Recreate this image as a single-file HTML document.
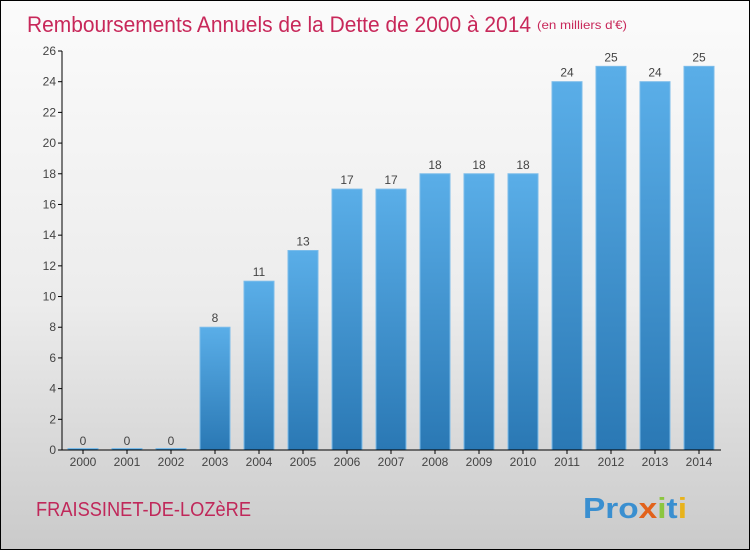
<!DOCTYPE html>
<html><head><meta charset="utf-8"><style>
body{margin:0}
#c{width:748px;height:548px;border:1px solid #000;background:linear-gradient(#fbfbfb 0%,#ececec 55%,#cacaca 100%);position:relative;font-family:"Liberation Sans",sans-serif;overflow:hidden}
</style></head><body>
<div id="c">
<svg id="s" width="748" height="548" style="position:absolute;left:0;top:0">
<defs><linearGradient id="g" x1="0" y1="0" x2="0" y2="1"><stop offset="0" stop-color="#5aaee8"/><stop offset="1" stop-color="#2a78b4"/></linearGradient></defs>
<text x="26" y="31" font-size="22" fill="#c8285a" textLength="504" lengthAdjust="spacingAndGlyphs">Remboursements Annuels de la Dette de 2000 à 2014</text>
<text x="536" y="28" font-size="12" fill="#c8285a" textLength="90" lengthAdjust="spacingAndGlyphs">(en milliers d'€)</text>
<text x="35" y="515" font-size="20" fill="#c0285a" textLength="215" lengthAdjust="spacingAndGlyphs">FRAISSINET-DE-LOZèRE</text>
<text x="582" y="517" font-size="29" font-weight="bold" fill="#3a8fd0" textLength="104" lengthAdjust="spacingAndGlyphs"><tspan fill="#3a8fd0">Pro</tspan><tspan fill="#e2621b">x</tspan><tspan fill="#8cc63f">i</tspan><tspan fill="#3a8fd0">t</tspan><tspan fill="#e8b31c">i</tspan></text>
<g id="plot"></g>
</svg>
</div>
<script>
const years=["2000","2001","2002","2003","2004","2005","2006","2007","2008","2009","2010","2011","2012","2013","2014"];
const values=[0,0,0,8,11,13,17,17,18,18,18,24,25,24,25];
const yTicks=[0,2,4,6,8,10,12,14,16,18,20,22,24,26];
const NS="http://www.w3.org/2000/svg";
const g=document.getElementById('plot');
const y0=449,yTop=50,yMax=26;
const y=v=>y0-(v/yMax)*(y0-yTop);
const x=i=>82+i*44;
function el(t,a,txt){const e=document.createElementNS(NS,t);for(const k in a)e.setAttribute(k,a[k]);if(txt!==undefined)e.textContent=txt;g.appendChild(e);return e;}
yTicks.forEach(t=>{
const tk=el('line',{x1:57,x2:61,y1:y(t),y2:y(t),stroke:'#000'});


const lb=el('text',{x:55,y:y(t)+4,'font-size':12,fill:'#444','text-anchor':'end'},t);


});
values.forEach((v,i)=>{
const h=Math.max(y0-y(v),1.5);
const r=el('rect',{x:x(i)-15,y:y0-h,width:30,height:h,fill:'url(#g)',stroke:'#7bbcea','stroke-width':1});


const vl=el('text',{x:x(i),y:y(v)-5,'font-size':12,fill:'#444','text-anchor':'middle'},v);


const tk=el('line',{x1:x(i),x2:x(i),y1:y0,y2:y0+4,stroke:'#000'});


const xl=el('text',{x:x(i),y:y0+16,'font-size':12,fill:'#444','text-anchor':'middle'},years[i]);


});
const ya=el('line',{x1:61,x2:61,y1:yTop,y2:y0,stroke:'#000'});


const xa=el('line',{x1:61,x2:720,y1:y0,y2:y0,stroke:'#000'});


</script>
</body></html>
